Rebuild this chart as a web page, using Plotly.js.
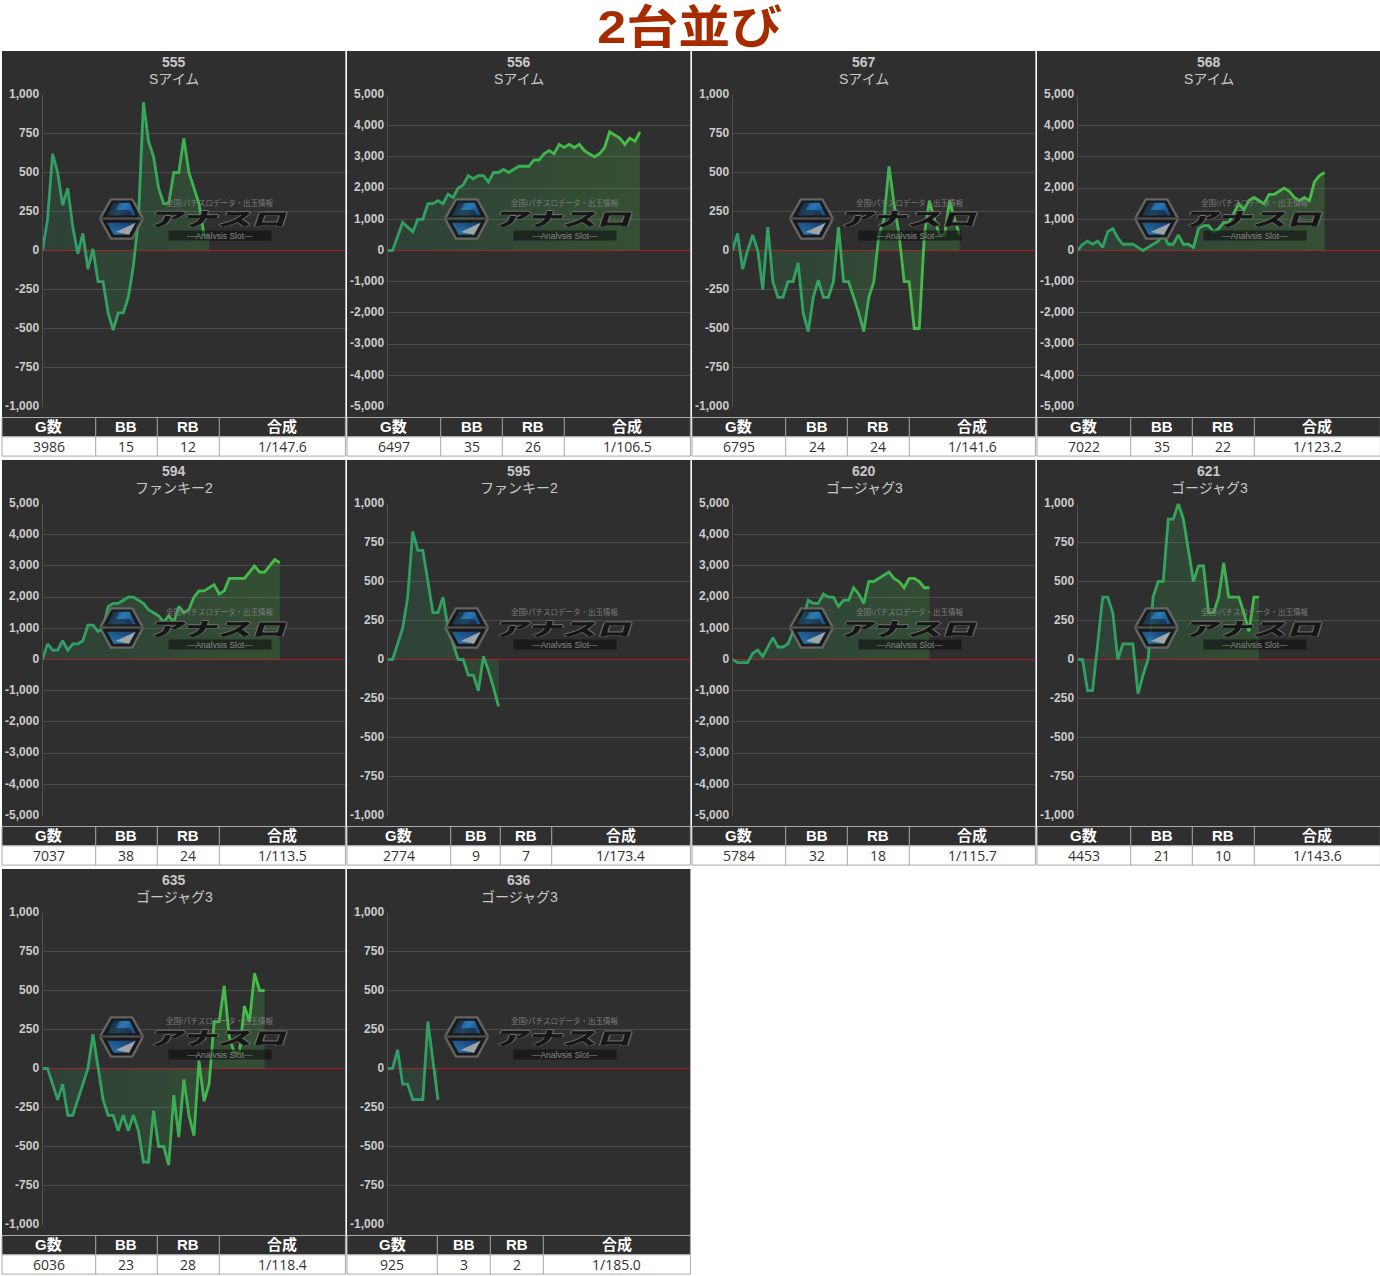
<!DOCTYPE html>
<html><head><meta charset="utf-8">
<script src="https://cdn.plot.ly/plotly-3.0.1.min.js"></script>
<style>html,body{margin:0;padding:0;background:#fff;overflow:hidden}#chart{width:1380px;height:1276px}</style>
</head><body><div id="chart"></div>
<script>
const pageTitle = "2台並び";
const machines = ["555","556","567","568","594","595","620","621","635","636"];
const models = ["Sアイム","Sアイム","Sアイム","Sアイム","ファンキー2","ファンキー2","ゴージャグ3","ゴージャグ3","ゴージャグ3","ゴージャグ3"];
const gameCounts = ["3986","6497","6795","7022","7037","2774","5784","4453","6036","925"];
const bbCounts = ["15","35","24","35","38","9","32","21","23","3"];
const rbCounts = ["12","26","24","22","24","7","18","10","28","2"];
const rates = ["1/147.6","1/106.5","1/141.6","1/123.2","1/113.5","1/173.4","1/115.7","1/143.6","1/118.4","1/185.0"];
const tableHeads = ["G数","BB","RB","合成"];
const axisMax = [1000,5000,1000,5000,5000,1000,5000,1000,1000,1000];
const ticksSmall = [1000,750,500,250,0,-250,-500,-750,-1000];
const tickTextSmall = ["1,000","750","500","250","0","-250","-500","-750","-1,000"];
const ticksLarge = [5000,4000,3000,2000,1000,0,-1000,-2000,-3000,-4000,-5000];
const tickTextLarge = ["5,000","4,000","3,000","2,000","1,000","0","-1,000","-2,000","-3,000","-4,000","-5,000"];

const s555 = [0,200,620,500,290,400,150,-20,110,-120,10,-200,-200,-400,-510,-400,-400,-300,-100,200,950,700,600,400,300,300,500,500,720,500,400,300,100,100];
const s556 = [0,0,450,900,750,600,1000,1000,1500,1500,1600,1500,1800,1700,2000,2100,2400,2300,2400,2400,2200,2500,2500,2600,2500,2600,2700,2700,2700,2900,2900,3100,3200,3100,3400,3300,3400,3300,3400,3200,3100,3000,3100,3300,3800,3700,3600,3400,3600,3500,3800];
const s567 = [0,110,-120,0,100,0,-250,150,-200,-300,-300,-200,-200,-80,-400,-520,-300,-190,-300,-300,-200,150,-200,-200,-300,-400,-520,-300,-200,100,200,540,300,100,-200,-200,-500,-500,100,320,200,100,100,320,200,100];
const s568 = [0,200,300,200,300,100,600,700,400,200,200,200,100,0,100,200,300,500,200,200,500,200,200,100,700,800,800,600,700,900,900,1200,1500,1300,1600,1700,1600,1500,1800,1800,1900,2000,1900,1700,1600,1700,1600,2200,2400,2500];
const s594 = [0,500,300,300,600,300,500,500,600,1100,1100,900,1000,1700,1800,1800,1900,2000,2000,1900,1800,1600,1500,1400,1200,1400,1200,1700,1500,1600,2000,2200,2200,2300,2400,2100,2200,2600,2600,2600,2600,2800,3000,2800,2800,3000,3200,3100];
const s595 = [0,0,100,200,400,820,700,700,500,300,300,400,200,100,0,0,-100,-100,-200,20,-70,-180,-300];
const s620 = [0,-100,-100,-100,200,300,100,400,700,400,400,500,900,1300,1300,1900,1800,1800,2100,2000,2000,1700,1900,1900,2300,2100,1800,2500,2500,2600,2700,2800,2600,2500,2300,2600,2600,2500,2300,2300];
const s621 = [0,0,-200,-200,100,400,400,300,0,100,100,100,-220,-100,0,400,500,500,900,900,1000,900,700,500,600,600,300,300,400,620,400,400,400,300,180,400,400];
const s635 = [0,0,-100,-200,-100,-300,-300,-200,-100,0,220,0,-200,-300,-300,-400,-300,-400,-300,-400,-600,-600,-270,-500,-500,-620,-170,-440,-70,-300,-430,50,-210,-100,300,300,530,200,100,100,400,300,610,500,500];
const s636 = [0,0,120,-100,-100,-200,-200,-200,300,50,-200];
const allSeries = [s555,s556,s567,s568,s594,s595,s620,s621,s635,s636];

// column edges (px, from the panel's left) of the small table under each panel
const colEdges = {default:[0,93.7,155.3,217.3,343], "595":[0,103.7,153.3,204.7,343], "636":[0,90.3,143.3,196.3,343]};

const W=1380,H=1276;
const px=v=>v/W, py=v=>1-v/H;
const panelLeft=[2,347,692,1037], rowTop=[51,460,869];
const latinCJK='"Liberation Sans","Noto Sans CJK JP"';
const logoSvg = `<svg xmlns="http://www.w3.org/2000/svg" viewBox="0 0 135 126"><defs><linearGradient id="u" x1="0" y1="0" x2="1" y2="0.4"><stop offset="0" stop-color="#123b78"/><stop offset="0.6" stop-color="#2b86cc"/><stop offset="1" stop-color="#1a56a0"/></linearGradient><linearGradient id="l" x1="0" y1="1" x2="1" y2="0"><stop offset="0" stop-color="#2a86c8"/><stop offset="1" stop-color="#123b78"/></linearGradient></defs><polygon points="3,62 36,4 100,4 132,62 100,122 36,122" fill="#161616" stroke="#6e6e6e" stroke-width="7"/><rect x="0" y="58" width="135" height="7" fill="#555"/><polygon points="26,52 44,14 92,14 110,52" fill="url(#u)"/><polygon points="26,52 44,14 62,14 50,36 92,36 100,52" fill="#151515" opacity="0.55"/><polygon points="24,74 110,74 90,110 44,110" fill="url(#l)"/><polygon points="110,74 90,110 50,102" fill="#b4b8bc"/></svg>`;
const logoSrc = "data:image/svg+xml;charset=utf-8,"+encodeURIComponent(logoSvg);

const data=[], shapes=[], annotations=[], images=[];
const layout={width:W,height:H,margin:{l:0,r:0,t:0,b:0},paper_bgcolor:"#fff",plot_bgcolor:"rgba(0,0,0,0)",showlegend:false,hovermode:false,shapes,annotations,images};
const note=(x,y,text,font,extra)=>annotations.push(Object.assign({xref:"paper",yref:"paper",x:px(x),y:py(y),text,showarrow:false,xanchor:"center",yanchor:"middle",font},extra||{}));
note(690,26.5,pageTitle,{family:latinCJK,size:46,color:"#a62c00",weight:700});

machines.forEach((m,i)=>{
  const L=panelLeft[i%4], T=rowTop[Math.floor(i/4)], R=L+343.4, n=i+1;
  const ax=n===1?"":n, big=axisMax[i]===5000;
  shapes.push({type:"rect",xref:"paper",yref:"paper",x0:px(L),x1:px(R),y0:py(T),y1:py(T+366),fillcolor:"#2f2f2f",line:{width:0},layer:"below"});
  layout["xaxis"+ax]={domain:[px(L+40.5),px(R)],range:[0,60],visible:false,anchor:"y"+ax,fixedrange:true};
  layout["yaxis"+ax]={domain:[py(T+355.5),py(T+43.5)],range:[-axisMax[i],axisMax[i]],anchor:"x"+ax,fixedrange:true,
    tickmode:"array",tickvals:big?ticksLarge:ticksSmall,ticktext:big?tickTextLarge:tickTextSmall,
    tickfont:{family:"Liberation Sans",size:12,color:"#cccccc",weight:700},ticks:"",ticklabelshift:-1,
    showgrid:true,gridcolor:"#4c4c4c",gridwidth:1,showline:true,linecolor:"#505050",linewidth:1,
    zeroline:true,zerolinecolor:"#a81e1e",zerolinewidth:1.8};
  data.push({type:"scatter",mode:"lines",x:allSeries[i].map((_,k)=>k),y:allSeries[i],xaxis:"x"+ax,yaxis:"y"+ax,
    line:{color:"#3aad55",width:2.8,shape:"linear"},fill:"tozeroy",fillcolor:"rgba(60,170,70,0.24)",cliponaxis:false,hoverinfo:"skip"});
  note(L+172,T+11,m,{family:latinCJK,size:14,color:"#c8c8c8",weight:700});
  note(L+172,T+28,models[i],{family:latinCJK,size:14,color:"#c8c8c8"});

  // table under the panel
  const e=colEdges[m]||colEdges.default, hT=T+366.5, hB=hT+19.3, vB=hB+19.3;
  shapes.push({type:"rect",xref:"paper",yref:"paper",x0:px(L),x1:px(R),y0:py(hT),y1:py(hB),fillcolor:"#2f2f2f",line:{color:"#a8a8a8",width:1},layer:"below"});
  shapes.push({type:"rect",xref:"paper",yref:"paper",x0:px(L),x1:px(R),y0:py(hB),y1:py(vB),fillcolor:"#ffffff",line:{color:"#a8a8a8",width:1},layer:"below"});
  [1,2,3].forEach(c=>shapes.push({type:"line",xref:"paper",yref:"paper",x0:px(L+e[c]),x1:px(L+e[c]),y0:py(hT),y1:py(vB),line:{color:"#a8a8a8",width:1},layer:"below"}));
  const vals=[gameCounts[i],bbCounts[i],rbCounts[i],rates[i]];
  tableHeads.forEach((h,c)=>{
    const cx=L+(e[c]+e[c+1])/2;
    note(cx,hT+9,h,{family:latinCJK,size:15,color:"#ffffff",weight:700});
    note(cx,hB+9.8,vals[c],{family:"Open Sans",size:14,color:"#333333"});
  });

  // watermark
  images.push({source:logoSrc,xref:"paper",yref:"paper",x:px(L+97),y:py(T+147),sizex:45/W,sizey:42/H,sizing:"stretch",xanchor:"left",yanchor:"top",layer:"above",opacity:0.85});
  note(L+218,T+152,"全国!パチスロデータ・出玉情報",{family:latinCJK,size:7.5,color:"#7c7c7c"});
  note(L+217.5,T+167,"アナスロ",{family:"Noto Sans CJK JP",size:26,color:"#161616",weight:900,shadow:"1px 0 #707070,-1px 0 #707070,0 1px #707070,0 -1px #707070"});
  note(L+218,T+185,"—Analysis Slot—",{family:"Liberation Sans",size:8.5,color:"#8a8a8a"},{bgcolor:"rgba(15,15,15,0.6)",width:100,height:7});
});

Plotly.newPlot("chart",data,layout,{displayModeBar:false,staticPlot:true}).then(gd=>{
  const svg=gd.querySelector("svg.main-svg"), NS="http://www.w3.org/2000/svg";
  const defs=svg.querySelector("defs")||svg.insertBefore(document.createElementNS(NS,"defs"),svg.firstChild);
  const grad=(id,stops)=>{const g=document.createElementNS(NS,"linearGradient");g.setAttribute("id",id);g.setAttribute("gradientUnits","userSpaceOnUse");g.setAttribute("x1",0);g.setAttribute("x2",303);g.setAttribute("y1",0);g.setAttribute("y2",0);
    stops.forEach(s=>{const t=document.createElementNS(NS,"stop");t.setAttribute("offset",s[0]);t.setAttribute("stop-color",s[1]);t.setAttribute("stop-opacity",s[2]);g.appendChild(t)});defs.appendChild(g)};
  grad("lineGrad",[[0,"#2f9d66",1],[0.3,"#33a45c",1],[0.6,"#45bb4a",1],[1,"#4cc244",1]]);
  grad("fillGrad",[[0,"#2f9d66",0.16],[0.6,"#45bb4a",0.21],[1,"#4cc244",0.24]]);
  gd.querySelectorAll(".scatterlayer path.js-line").forEach(p=>{p.style.stroke="url(#lineGrad)"});
  gd.querySelectorAll(".scatterlayer path.js-fill").forEach(p=>{p.style.fill="url(#fillGrad)";p.style.fillOpacity=1});
  gd.querySelectorAll(".annotation text").forEach(t=>{
    const b=t.getBBox(),cx=b.x+b.width/2,cy=b.y+b.height/2;
    if(t.textContent==="アナスロ")
      t.setAttribute("transform",`translate(${cx},${cy}) scale(1.33,0.72) skewX(-10) translate(${-cx},${-cy})`);
    if(t.textContent===pageTitle)
      t.setAttribute("transform",`translate(${cx},${cy}) scale(1.13,1) translate(${-cx},${-cy})`);
  });
});
</script></body></html>
